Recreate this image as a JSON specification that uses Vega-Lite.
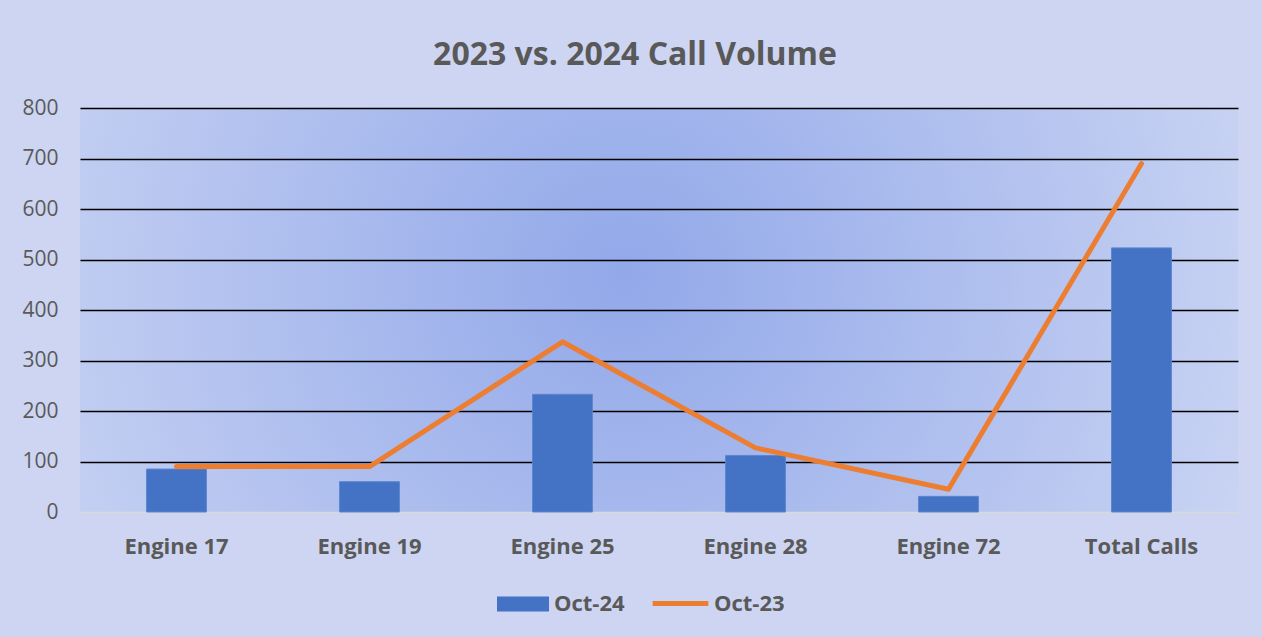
{
  "$schema": "https://vega.github.io/schema/vega-lite/v6.json",
  "width": 1158,
  "height": 404,
  "autosize": "none",
  "padding": {"left": 80, "top": 108, "right": 24, "bottom": 125},
  "background": "#cdd5f2",
  "title": {
    "text": "2023 vs. 2024 Call Volume",
    "font": "Open Sans",
    "fontSize": 32,
    "fontWeight": "bold",
    "color": "#595959",
    "anchor": "middle",
    "dx": -24,
    "offset": 25
  },
  "config": {
    "view": {
      "stroke": null,
      "fill": {
        "gradient": "radial",
        "x1": 0.47, "y1": 0.47, "r1": 0,
        "x2": 0.47, "y2": 0.47, "r2": 0.8,
        "stops": [
          {"offset": 0, "color": "#92a8e9"},
          {"offset": 1, "color": "#dfe5f7"}
        ]
      }
    },
    "axis": {"labelFont": "Open Sans", "labelColor": "#595959"},
    "legend": {"labelFont": "Open Sans", "labelColor": "#595959"}
  },
  "data": {
    "values": [
      {"category": "Engine 17", "oct24": 85, "oct23": 90},
      {"category": "Engine 19", "oct24": 60, "oct23": 90},
      {"category": "Engine 25", "oct24": 233, "oct23": 337},
      {"category": "Engine 28", "oct24": 112, "oct23": 127},
      {"category": "Engine 72", "oct24": 31, "oct23": 45},
      {"category": "Total Calls", "oct24": 523, "oct23": 690}
    ]
  },
  "encoding": {
    "x": {
      "field": "category",
      "type": "nominal",
      "sort": null,
      "scale": {"paddingInner": 0, "paddingOuter": 0},
      "axis": {
        "title": null,
        "labelAngle": 0,
        "labelFontSize": 22,
        "labelFontWeight": "bold",
        "labelPadding": 24,
        "ticks": false,
        "domain": false
      }
    }
  },
  "layer": [
    {
      "mark": {"type": "bar", "width": {"band": 0.31}, "stroke": "#5b85cf", "strokeWidth": 1},
      "encoding": {
        "y": {
          "field": "oct24",
          "type": "quantitative",
          "scale": {"domain": [0, 800], "nice": false},
          "axis": {
            "title": null,
            "values": [0, 100, 200, 300, 400, 500, 600, 700, 800],
            "labelFontSize": 21,
            "labelPadding": 22,
            "ticks": false,
            "domain": false,
            "gridColor": {"condition": {"test": "datum.value === 0", "value": "#d9d9d9"}, "value": "#000000"},
            "gridWidth": 1.6
          }
        },
        "color": {
          "datum": "Oct-24",
          "type": "nominal",
          "scale": {"domain": ["Oct-24"], "range": ["#4472c4"]},
          "legend": {
            "title": null,
            "orient": "none",
            "legendX": 417,
            "legendY": 470,
            "padding": 0,
            "direction": "horizontal",
            "labelFontSize": 22,
            "labelFontWeight": "bold",
            "symbolType": "M-1,-0.29H1V0.29H-1Z",
            "symbolSize": 2704,
            "symbolStrokeWidth": 0,
            "labelOffset": 5
          }
        }
      }
    },
    {
      "mark": {"type": "line", "color": "#ed7d31", "strokeWidth": 5, "strokeCap": "round", "strokeJoin": "round"},
      "encoding": {
        "y": {"field": "oct23", "type": "quantitative"},
        "stroke": {
          "datum": "Oct-23",
          "type": "nominal",
          "scale": {"domain": ["Oct-23"], "range": ["#ed7d31"]},
          "legend": {
            "title": null,
            "orient": "none",
            "legendX": 570,
            "legendY": 465,
            "padding": 0,
            "direction": "horizontal",
            "labelFontSize": 22,
            "labelFontWeight": "bold",
            "symbolType": "stroke",
            "symbolSize": 3100,
            "symbolStrokeWidth": 5,
            "labelOffset": 3
          }
        }
      }
    }
  ]
}
